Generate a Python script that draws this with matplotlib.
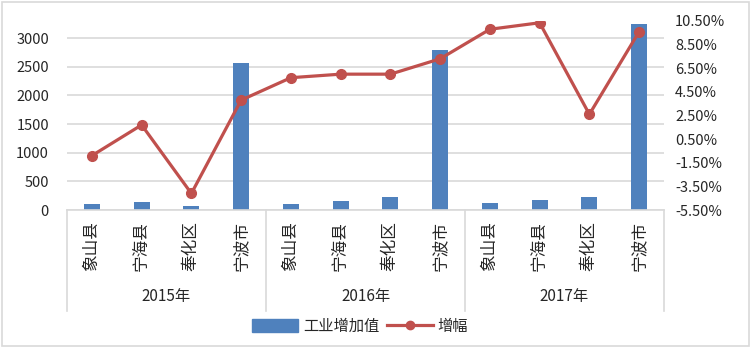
import numpy as np
import matplotlib
matplotlib.use('Agg')
import matplotlib.pyplot as plt
from matplotlib.ticker import FuncFormatter
from matplotlib.patches import Rectangle
from matplotlib.lines import Line2D
from matplotlib.transforms import blended_transform_factory

plt.rcParams['font.family'] = ['Noto Sans CJK SC', 'DejaVu Sans']

years = ['2015年', '2016年', '2017年']
places = ['象山县', '宁海县', '奉化区', '宁波市']
added_value = [105, 140, 70, 2570,
               105, 155, 230, 2790,
               125, 174, 232, 3256]
growth = [-0.9, 1.7, -4.1, 3.8,
          5.7, 6.0, 6.0, 7.3,
          9.8, 10.35, 2.6, 9.6]

barColor = '#4F81BD'
lineColor = '#C0504D'
gridColor = '#D9D9D9'
textColor = '#262626'

W, H = 750, 347
fig = plt.figure(figsize=(W/100., H/100.), dpi=100)
fig.patches.append(Rectangle((1.5/W, 1.5/H), 1-3./W, 1-3./H, transform=fig.transFigure,
                             fill=False, edgecolor=gridColor, lw=1.2))

ax1 = fig.add_axes([67./W, (H-210.)/H, 597./W, 189./H])
x = np.arange(len(added_value))
ax1.bar(x, added_value, width=0.32, color=barColor, zorder=2)
ax1.set_xlim(-0.5, len(added_value)-0.5)
ax1.set_ylim(0, 3300)
ax1.set_yticks(np.arange(0, 3001, 500))
ax1.yaxis.grid(True, color=gridColor, lw=1.2, zorder=0)
ax1.set_axisbelow(True)
ax1.tick_params(axis='y', length=0, labelsize=10.5, labelcolor=textColor, pad=13)
ax1.set_xticks([])
for s in ['top', 'left', 'right']:
    ax1.spines[s].set_visible(False)
ax1.spines['bottom'].set_color(gridColor)
ax1.spines['bottom'].set_linewidth(1.2)

ax2 = ax1.twinx()
ax2.plot(x, growth, '-o', color=lineColor, lw=2.3, ms=7, zorder=3)
ax2.set_ylim(-5.5, 10.5)
ax2.set_yticks(np.arange(-5.5, 10.6, 2))
ax2.yaxis.set_major_formatter(FuncFormatter(lambda v, p: '%.2f%%' % v))
ax2.tick_params(axis='y', length=0, labelsize=10.5, labelcolor=textColor, pad=8)
for s in ax2.spines.values():
    s.set_visible(False)

# category axis: place names, year groups and separators
trans = blended_transform_factory(ax1.transData, ax1.transAxes)
for i in range(len(added_value)):
    ax1.text(i, -0.19, places[i % 4], rotation=90, ha='center', va='center',
             fontsize=12, color=textColor, transform=trans)
for j, yr in enumerate(years):
    ax1.text(4*j + 1.5, -0.46, yr, ha='center', va='center', fontsize=11,
             color=textColor, transform=trans)
for k in range(4):
    ax1.add_line(Line2D([4*k - 0.5, 4*k - 0.5], [0, -0.535], color=gridColor, lw=1.2,
                        transform=trans, clip_on=False))

handles = [Rectangle((0, 0), 1, 1, color=barColor),
           Line2D([], [], color=lineColor, lw=2.3, marker='o', ms=6)]
fig.legend(handles, ['工业增加值', '增幅'], loc='center', bbox_to_anchor=(360./W, 1-326./H),
           ncol=2, frameon=False, fontsize=11, handlelength=3.0, handleheight=0.9,
           handletextpad=0.3, columnspacing=0.5, labelcolor=textColor)

fig.savefig('out.png', dpi=100)
